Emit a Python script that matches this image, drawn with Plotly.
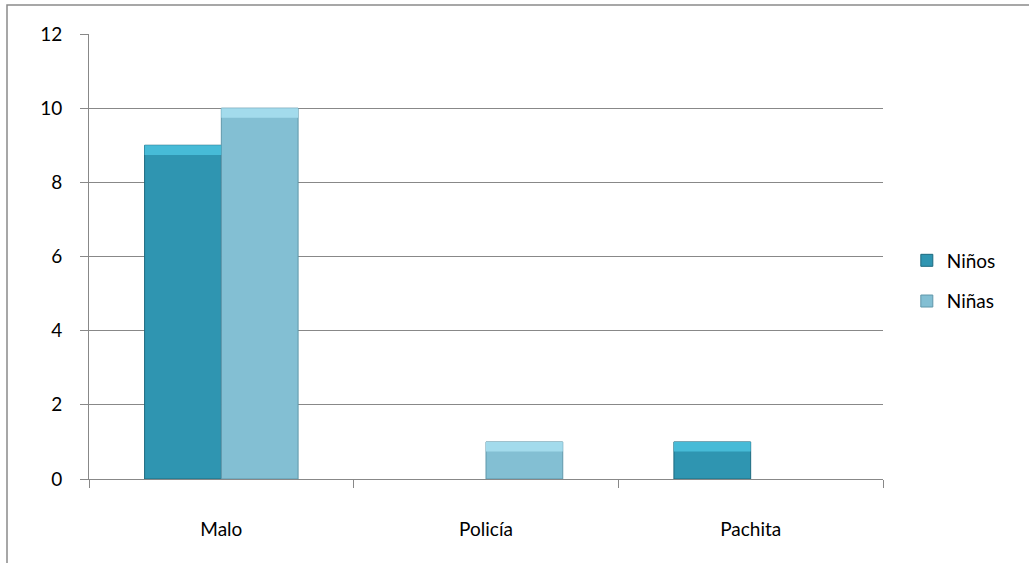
import plotly.graph_objects as go

categories = ["Malo", "Policía", "Pachita"]
ninos = [9, 0, 1]
ninas = [10, 1, 0]
series_names = ["Niños", "Niñas"]
y_ticks = [0, 2, 4, 6, 8, 10, 12]

FONT = "Lato, Open Sans, sans-serif"
BEVEL = 0.26  # height of the top highlight band, in axis units

series = [
    (series_names[0], ninos, "#2f95b1", "#1d6a7f", "#47bbd7", "a"),
    (series_names[1], ninas, "#83bfd3", "#5f97aa", "#a3dbec", "b"),
]

fig = go.Figure()
for name, vals, col, edge, hi, grp in series:
    fig.add_trace(go.Bar(
        x=categories, y=vals, name=name, legendgroup=grp, offsetgroup=grp,
        marker=dict(color=col,
                    line=dict(color=edge, width=[1 if v else 0 for v in vals])),
    ))
for name, vals, col, edge, hi, grp in series:
    fig.add_trace(go.Bar(
        x=categories, y=[BEVEL if v else 0 for v in vals],
        base=[v - BEVEL if v else 0 for v in vals],
        name=name, legendgroup=grp, offsetgroup=grp, showlegend=False,
        hoverinfo="skip",
        marker=dict(color=hi, line=dict(width=0)),
    ))

fig.update_layout(
    width=1029, height=563,
    margin=dict(l=89, r=146, t=34, b=84),
    paper_bgcolor="white", plot_bgcolor="white",
    barmode="group", bargap=0.42, bargroupgap=0,
    font=dict(family=FONT, size=19, color="#000"),
    showlegend=True,
    legend=dict(x=1.03, xanchor="left", y=0.445, yanchor="middle",
                font=dict(size=19), traceorder="grouped", tracegroupgap=13,
                itemwidth=30),
    xaxis=dict(type="category", showline=True, linecolor="#888", linewidth=1,
               ticks="outside", tickson="boundaries", ticklen=8, tickcolor="#888",
               ticklabelstandoff=33, showgrid=False),
    yaxis=dict(range=[0, 12], tickvals=y_ticks, showline=True, linecolor="#888",
               linewidth=1, ticks="outside", ticklen=8, tickcolor="#888",
               showgrid=True, gridcolor="#888", gridwidth=1, zeroline=False,
               ticklabelstandoff=14),
    shapes=[dict(type="rect", xref="paper", yref="paper",
                 x0=(7 - 89) / 794, x1=1.3, y0=-0.3, y1=1 + (34 - 5) / 445,
                 line=dict(color="#8a8a8a", width=1.5), fillcolor="rgba(0,0,0,0)",
                 layer="below")],
)

fig.write_html("out.html", config={"displayModeBar": False},
               post_script="document.body.style.margin='0';document.body.style.overflow='hidden';")
